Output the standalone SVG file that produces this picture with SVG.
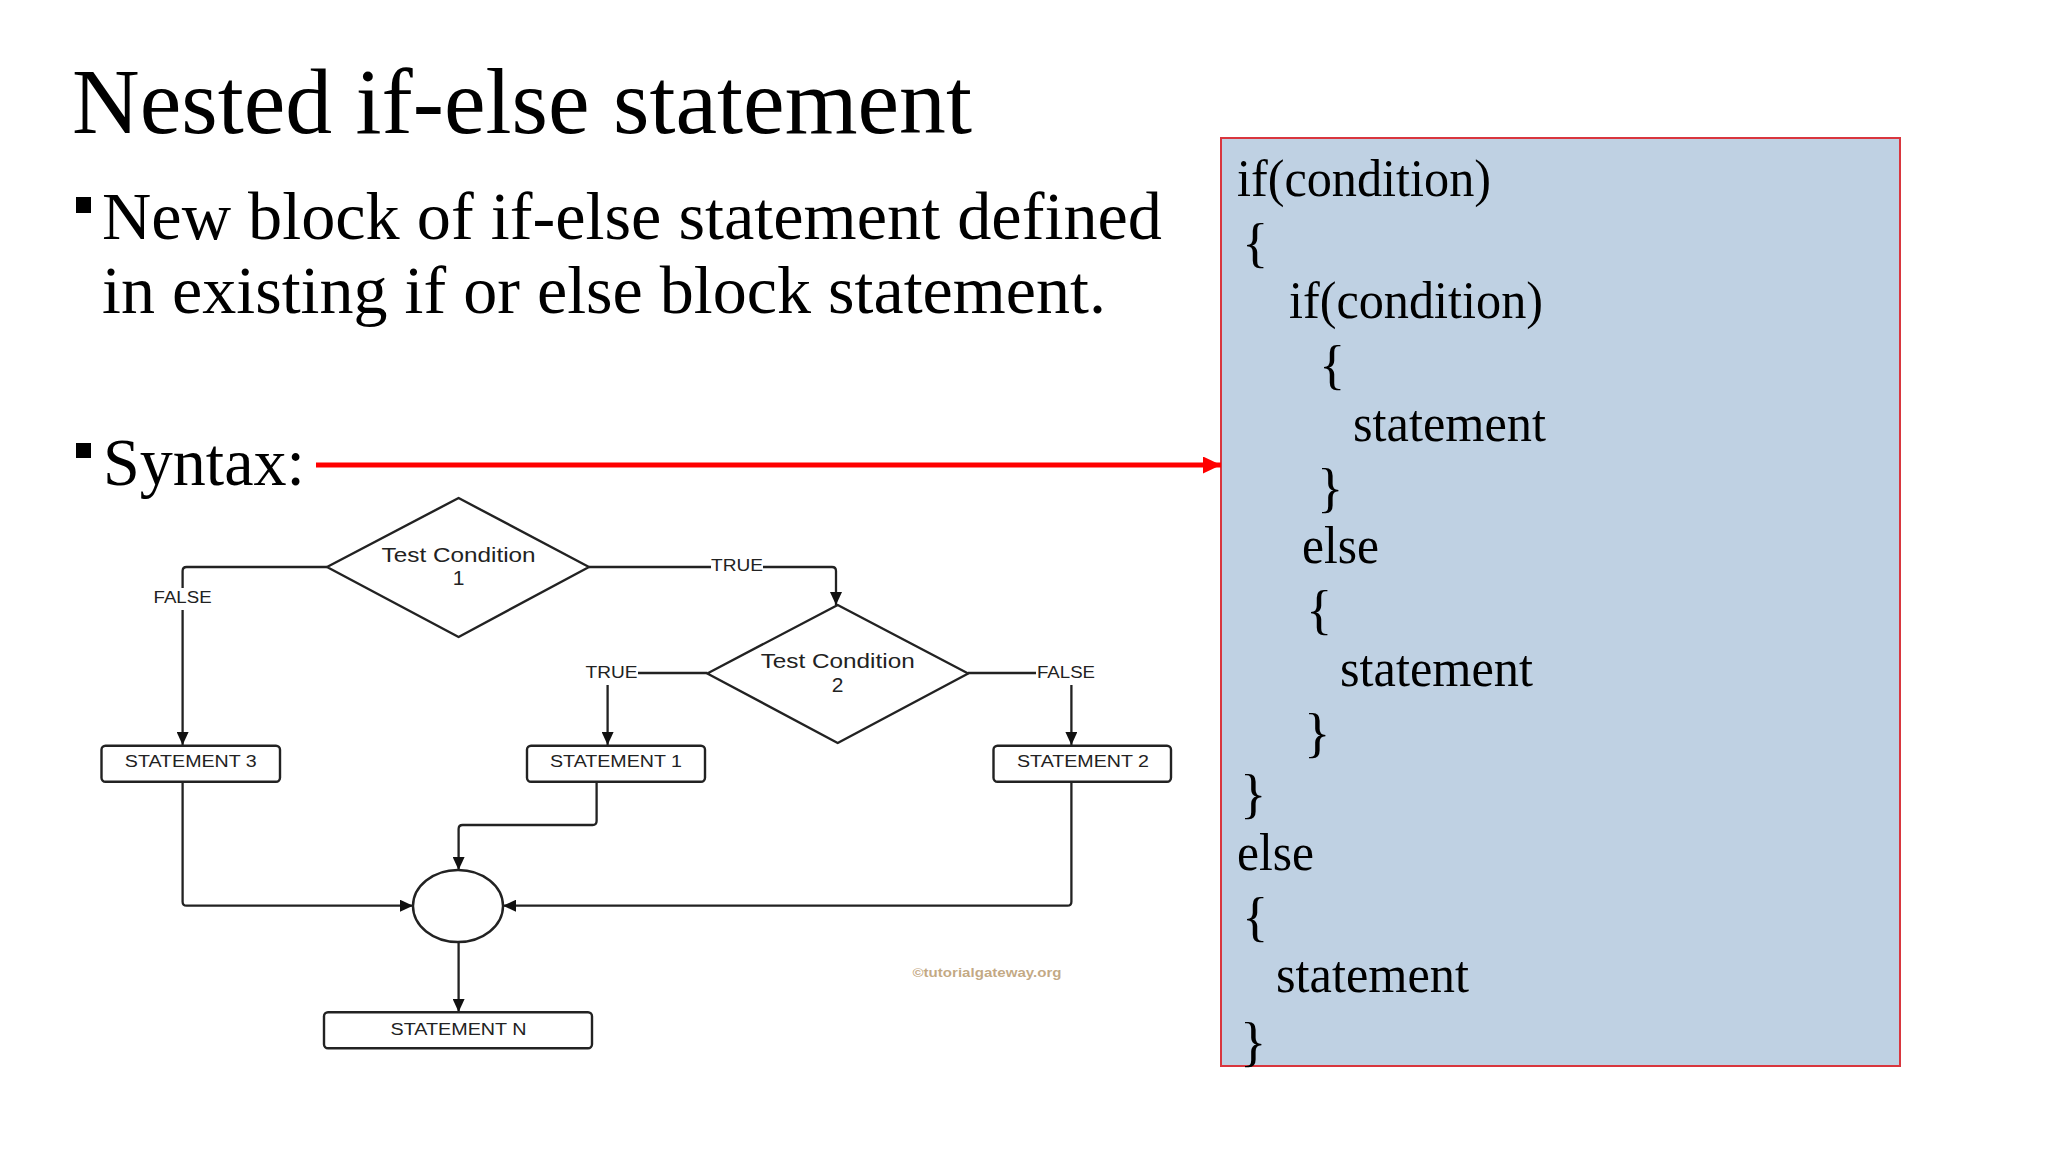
<svg xmlns="http://www.w3.org/2000/svg" width="2048" height="1152" viewBox="0 0 2048 1152">
<style>
.serif{font-family:"Liberation Serif","Times New Roman",serif;fill:#000}
.code{font-family:"Liberation Serif","Times New Roman",serif;font-size:53px;fill:#000}
.br{font-family:"Liberation Serif","Times New Roman",serif;font-size:55px;fill:#000}
.fc{font-family:"Liberation Sans",Arial,sans-serif;fill:#222}
.lbl{font-size:16.3px}
.box{fill:#fff;stroke:#222;stroke-width:2.4}
.ln{fill:none;stroke:#222;stroke-width:2.3}
.gap{fill:#fff}
</style>
<defs>
<marker id="ah" markerUnits="userSpaceOnUse" markerWidth="13" markerHeight="12" refX="13" refY="6" orient="auto">
<path d="M0,0 L13,6 L0,12 z" fill="#111"/>
</marker>
<marker id="rh" markerUnits="userSpaceOnUse" markerWidth="18" markerHeight="17" refX="18" refY="8.5" orient="auto">
<path d="M0,0 L18,8.5 L0,17 z" fill="#f00"/>
</marker>
</defs>
<rect width="2048" height="1152" fill="#fff"/>

<g id="title">
<text class="serif" x="72" y="133" font-size="94" textLength="900" lengthAdjust="spacingAndGlyphs">Nested if-else statement</text>
</g>
<g id="bullets">
<rect x="76" y="197" width="15" height="16" fill="#000"/>
<text class="serif" x="102" y="239" font-size="68" textLength="1060" lengthAdjust="spacingAndGlyphs">New block of if-else statement defined</text>
<text class="serif" x="102" y="313" font-size="68" textLength="1004" lengthAdjust="spacingAndGlyphs">in existing if or else block statement.</text>
<rect x="76" y="443" width="15" height="15" fill="#000"/>
<text class="serif" x="103" y="485" font-size="68" textLength="202" lengthAdjust="spacingAndGlyphs">Syntax:</text>
</g>

<g id="syntax-box">
<rect x="1221" y="138" width="679" height="928" fill="#bfd1e3" stroke="#d9363e" stroke-width="2"/>
<text class="code" x="1237" y="196" textLength="254" lengthAdjust="spacingAndGlyphs">if(condition)</text>
<text class="br" x="1242" y="261">{</text>
<text class="code" x="1289" y="318" textLength="254" lengthAdjust="spacingAndGlyphs">if(condition)</text>
<text class="br" x="1319" y="383">{</text>
<text class="code" x="1353" y="441" textLength="193" lengthAdjust="spacingAndGlyphs">statement</text>
<text class="br" x="1317" y="506">}</text>
<text class="code" x="1302" y="563" textLength="77" lengthAdjust="spacingAndGlyphs">else</text>
<text class="br" x="1306" y="628">{</text>
<text class="code" x="1340" y="686" textLength="193" lengthAdjust="spacingAndGlyphs">statement</text>
<text class="br" x="1304" y="751">}</text>
<text class="br" x="1240" y="812">}</text>
<text class="code" x="1237" y="870" textLength="77" lengthAdjust="spacingAndGlyphs">else</text>
<text class="br" x="1242" y="935">{</text>
<text class="code" x="1276" y="992" textLength="193" lengthAdjust="spacingAndGlyphs">statement</text>
<text class="br" x="1240" y="1060">}</text>
</g>

<g id="connectors">
<line x1="316" y1="465" x2="1221" y2="465" stroke="#f00" stroke-width="5" marker-end="url(#rh)"/>
<path class="ln" d="M327,567 H186.6 Q182.6,567 182.6,571 V745" marker-end="url(#ah)"/>
<path class="ln" d="M589,567 H832 Q836,567 836,571 V605" marker-end="url(#ah)"/>
<path class="ln" d="M707.3,673 H611.6 Q607.6,673 607.6,677 V745" marker-end="url(#ah)"/>
<path class="ln" d="M968,673 H1067.4 Q1071.4,673 1071.4,677 V745" marker-end="url(#ah)"/>
<path class="ln" d="M182.6,782 V901.7 Q182.6,905.7 186.6,905.7 H413" marker-end="url(#ah)"/>
<path class="ln" d="M596.6,782 V821 Q596.6,825 592.6,825 H462.6 Q458.6,825 458.6,829 V870" marker-end="url(#ah)"/>
<path class="ln" d="M1071.4,782 V901.7 Q1071.4,905.7 1067.4,905.7 H503" marker-end="url(#ah)"/>
<path class="ln" d="M458.6,942 V1012" marker-end="url(#ah)"/>
<rect class="gap" x="157" y="588" width="51" height="22"/>
<text class="fc lbl" x="182.6" y="603" text-anchor="middle" textLength="58" lengthAdjust="spacingAndGlyphs">FALSE</text>
<rect class="gap" x="711" y="556" width="52" height="20"/>
<text class="fc lbl" x="737" y="571" text-anchor="middle" textLength="52" lengthAdjust="spacingAndGlyphs">TRUE</text>
<rect class="gap" x="585" y="662" width="53" height="23"/>
<text class="fc lbl" x="611.5" y="678" text-anchor="middle" textLength="52" lengthAdjust="spacingAndGlyphs">TRUE</text>
<rect class="gap" x="1036" y="662" width="60" height="23"/>
<text class="fc lbl" x="1066" y="678" text-anchor="middle" textLength="58" lengthAdjust="spacingAndGlyphs">FALSE</text>
</g>

<g id="cond1">
<path class="box" d="M327,567 L458.6,498 L589,567 L458.6,637 Z" stroke-linejoin="round"/>
<text class="fc" x="458.6" y="562" font-size="21" text-anchor="middle" textLength="154" lengthAdjust="spacingAndGlyphs">Test Condition</text>
<text class="fc" x="458.6" y="585" font-size="21" text-anchor="middle">1</text>
</g>
<g id="cond2">
<path class="box" d="M707.3,673.5 L837.7,605 L968.2,673.5 L837.7,743 Z" stroke-linejoin="round"/>
<text class="fc" x="837.7" y="668" font-size="21" text-anchor="middle" textLength="154" lengthAdjust="spacingAndGlyphs">Test Condition</text>
<text class="fc" x="837.7" y="692" font-size="21" text-anchor="middle">2</text>
</g>
<g id="stmt3">
<rect class="box" x="101.5" y="745.7" width="178.5" height="36" rx="4"/>
<text class="fc" x="190.8" y="767" font-size="16" text-anchor="middle" textLength="132" lengthAdjust="spacingAndGlyphs">STATEMENT 3</text>
</g>
<g id="stmt1">
<rect class="box" x="527" y="745.7" width="178" height="36" rx="4"/>
<text class="fc" x="616" y="767" font-size="16" text-anchor="middle" textLength="132" lengthAdjust="spacingAndGlyphs">STATEMENT 1</text>
</g>
<g id="stmt2">
<rect class="box" x="993.5" y="745.7" width="177.5" height="36" rx="4"/>
<text class="fc" x="1083" y="767" font-size="16" text-anchor="middle" textLength="132" lengthAdjust="spacingAndGlyphs">STATEMENT 2</text>
</g>
<g id="join">
<ellipse class="box" cx="458" cy="906" rx="45" ry="36"/>
</g>
<g id="stmtN">
<rect class="box" x="324" y="1012.3" width="268" height="36" rx="4"/>
<text class="fc" x="458.5" y="1035" font-size="16" text-anchor="middle" textLength="136" lengthAdjust="spacingAndGlyphs">STATEMENT N</text>
</g>
<g id="watermark">
<text x="987" y="977" font-family="Liberation Sans,Arial,sans-serif" font-size="13" font-weight="bold" fill="#b99a6e" fill-opacity="0.85" text-anchor="middle" textLength="149" lengthAdjust="spacingAndGlyphs">©tutorialgateway.org</text>
</g>
</svg>
